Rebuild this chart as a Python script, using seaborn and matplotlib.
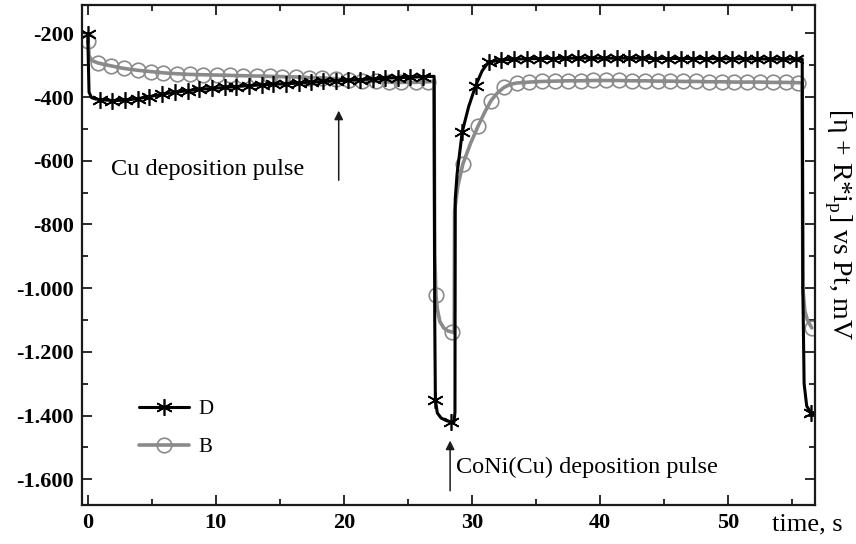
import numpy as np
import pandas as pd
import matplotlib
matplotlib.use("Agg")
import matplotlib.pyplot as plt
import seaborn as sns
from matplotlib.lines import Line2D
from matplotlib.ticker import MultipleLocator

# --- series D (black, asterisks): sampled points, drawn with markers
D_time = [0, 0.95, 1.9, 2.9, 3.9, 4.8, 5.8, 6.8, 7.8, 8.7, 9.7, 10.7, 11.6, 12.6,
          13.6, 14.5, 15.5, 16.5, 17.4, 18.4, 19.4, 20.3, 21.3, 22.3, 23.2, 24.2,
          25.2, 26.2,
          27.15, 28.35, 29.25, 30.3, 31.3,
          32.3, 33.3, 34.3, 35.3, 36.3, 37.3, 38.3, 39.3, 40.3, 41.3, 42.3, 43.3,
          44.3, 45.3, 46.3, 47.3, 48.3, 49.3, 50.3, 51.3, 52.3, 53.3, 54.3, 55.3,
          56.5]
D_mv = [-203, -408, -411, -410, -405, -399, -391, -385, -380, -376, -373, -370,
        -367, -364, -362, -360, -358, -356, -353, -351, -349, -347, -345, -343,
        -341, -339, -338, -336,
        -1351, -1420, -509, -364, -290,
        -284, -281, -280, -279, -279, -278, -278, -278, -278, -278, -278, -278,
        -279, -279, -279, -279, -279, -280, -280, -280, -280, -281, -281, -281,
        -1393]
# --- series D: extra trace points between markers (steps and bends)
D_edge_time = [0.05, 0.1, 0.3, 0.6, 27.05, 27.1, 27.3, 27.6, 28.0, 28.6, 28.68,
               28.7, 28.85, 29.75, 30.8, 55.8, 55.85, 55.95, 56.15]
D_edge_mv = [-300, -385, -402, -406, -335, -1100, -1392, -1408, -1416, -1421,
             -1390, -720, -640, -430, -318, -281, -1000, -1300, -1370]

# --- series B (grey, open circles): sampled points, drawn with markers
B_time = [0, 0.8, 1.8, 2.8, 3.9, 4.9, 5.9, 7.0, 8.0, 9.0, 10.1, 11.1, 12.1, 13.2,
          14.2, 15.2, 16.3, 17.3, 18.3, 19.4, 20.4, 21.4, 22.5, 23.5, 24.5, 25.6,
          26.6,
          27.2, 28.45, 29.3, 30.5, 31.5, 32.5,
          33.5, 34.5, 35.5, 36.5, 37.5, 38.5, 39.5, 40.5, 41.5, 42.5, 43.5, 44.5,
          45.5, 46.5, 47.5, 48.5, 49.5, 50.5, 51.5, 52.5, 53.5, 54.5, 55.5,
          56.55]
B_mv = [-225, -293, -302, -310, -316, -320, -324, -327, -329, -330, -331, -332,
        -333, -334, -335, -336, -337, -339, -340, -343, -346, -349, -351, -353,
        -354, -354, -352,
        -1023, -1138, -610, -490, -411, -370,
        -356, -353, -351, -350, -349, -349, -348, -348, -348, -349, -349, -350,
        -350, -351, -351, -352, -352, -353, -353, -353, -354, -354, -355,
        -1125]
B_edge_time = [0.05, 0.1, 0.3, 27.05, 27.1, 27.3, 27.5, 27.8, 28.1, 28.62, 28.65,
               28.9, 29.9, 31.0, 32.0, 33.0, 55.8, 55.85, 56.0, 56.2]
B_edge_mv = [-235, -270, -285, -350, -900, -1065, -1105, -1125, -1134, -1140, -760,
             -680, -545, -448, -387, -360, -355, -1000, -1070, -1100]

x_ticks = [0, 10, 20, 30, 40, 50]
y_ticks = [-200, -400, -600, -800, -1000, -1200, -1400, -1600]
y_tick_labels = ['-200', '-400', '-600', '-800', '-1.000', '-1.200', '-1.400', '-1.600']

BLACK = '#000000'
GREY = '#8a8a8a'
STAR = (6, 2, 0)  # six-armed asterisk, one arm vertical


def trace(t, v, et, ev):
    df = pd.concat([
        pd.DataFrame({'time': t, 'mv': v, 'mark': True}),
        pd.DataFrame({'time': et, 'mv': ev, 'mark': False}),
    ]).sort_values('time').reset_index(drop=True)
    return df


def main():
    sns.set_theme(style='ticks')
    plt.rcParams['font.family'] = ['Liberation Serif', 'DejaVu Serif']
    plt.rcParams['mathtext.fontset'] = 'custom'
    plt.rcParams['mathtext.rm'] = 'Liberation Serif'
    for k in ['text.color', 'axes.labelcolor', 'xtick.color', 'ytick.color']:
        plt.rcParams[k] = 'black'

    fig = plt.figure(figsize=(8.56, 5.44), dpi=100)
    ax = fig.add_axes([0.0958, 0.0717, 0.8563, 0.9191])

    d = trace(D_time, D_mv, D_edge_time, D_edge_mv)
    b = trace(B_time, B_mv, B_edge_time, B_edge_mv)

    sns.lineplot(data=b, x='time', y='mv', sort=False, estimator=None, ax=ax,
                 color=GREY, lw=2.6, marker='o', ms=10.5, mfc='none', mec=GREY,
                 mew=1.2, markevery=list(b.index[b['mark']]))
    sns.lineplot(data=d, x='time', y='mv', sort=False, estimator=None, ax=ax,
                 color=BLACK, lw=2.2, marker=STAR, ms=12, mec=BLACK,
                 mew=1.2, markevery=list(d.index[d['mark']]))

    ax.set_xlim(-0.45, 56.8)
    ax.set_ylim(-1681, -111)
    ax.set_xticks(x_ticks)
    ax.set_yticks(y_ticks, labels=y_tick_labels)
    ax.xaxis.set_minor_locator(MultipleLocator(5))
    ax.yaxis.set_minor_locator(MultipleLocator(100))
    ax.tick_params(which='both', direction='in', top=True, right=True,
                   width=1.3, color='k')
    ax.tick_params(which='major', length=7, labelsize=16, pad=6)
    ax.tick_params(which='minor', length=4.3)
    for lab in ax.get_xticklabels() + ax.get_yticklabels():
        lab.set_fontweight('bold')
    for sp in ax.spines.values():
        sp.set_linewidth(1.6)
        sp.set_color('k')
    ax.set_xlabel('')
    ax.set_ylabel('')

    # pulse annotations
    ax.annotate('', xy=(19.6, -434), xytext=(19.6, -670),
                arrowprops=dict(arrowstyle='-|>', color='k', lw=1.1, mutation_scale=13))
    ax.text(16.9, -627, 'Cu deposition pulse', ha='right', va='center', fontsize=17.5)
    ax.annotate('', xy=(28.3, -1470), xytext=(28.3, -1645),
                arrowprops=dict(arrowstyle='-|>', color='k', lw=1.1, mutation_scale=13))
    ax.text(28.75, -1562, 'CoNi(Cu) deposition pulse', ha='left', va='center', fontsize=17.5)

    # axis titles
    fig.text(0.984, 0.036, 'time, s', ha='right', va='center', fontsize=19)
    fig.text(0.979, 0.588, r'[η + R*i$_\mathrm{p}$] vs Pt, mV', rotation=-90,
             ha='center', va='center', fontsize=20)

    handles = [
        Line2D([], [], color=BLACK, lw=2.2, marker=STAR, ms=12, mec=BLACK, mew=1.2),
        Line2D([], [], color=GREY, lw=2.6, marker='o', ms=10.5, mfc='none', mec=GREY, mew=1.2),
    ]
    ax.legend(handles, ['D', 'B'], loc='center left', bbox_to_anchor=(0.063, 0.153),
              frameon=False, borderpad=0, handlelength=2.4, handletextpad=0.45,
              labelspacing=0.9, numpoints=1, fontsize=15)

    fig.savefig('out.png', dpi=100)
    plt.close(fig)


if __name__ == '__main__':
    main()
